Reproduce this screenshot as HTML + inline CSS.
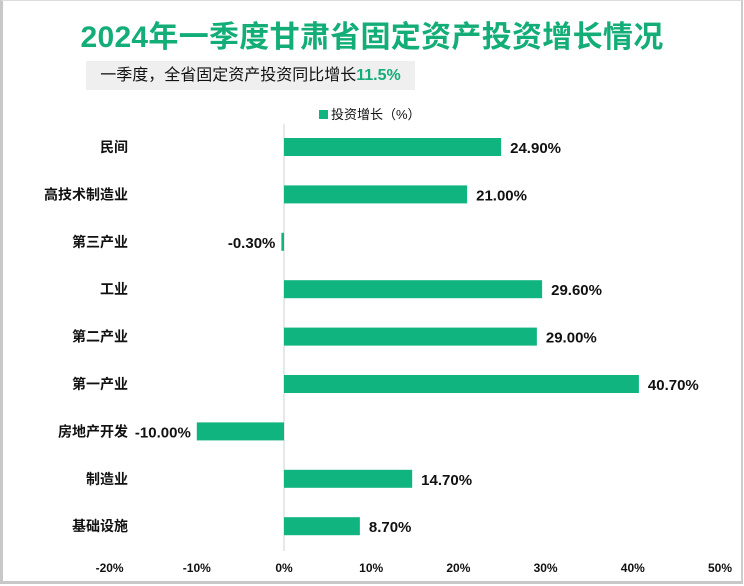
<!DOCTYPE html>
<html><head><meta charset="utf-8"><style>
body{margin:0;width:744px;height:586px;overflow:hidden;background:#fff;font-family:"Liberation Sans","Noto Sans CJK SC",sans-serif;}
#frame{position:absolute;left:0;top:0;width:738px;height:580px;border:3px solid #c8c8c8;border-top:1px solid #ddd;border-right:2px solid #ccc;}
#title{position:absolute;left:0;width:744px;top:12px;text-align:center;font-size:30px;font-weight:bold;color:#13ad78;letter-spacing:0.3px;}
#sub{position:absolute;left:86px;top:61px;width:329px;height:29px;background:#efefef;font-size:16px;line-height:29px;text-align:center;color:#111;}
#sub span{color:#13ad78;font-weight:bold;}
</style></head><body>
<div id="frame"></div>
<div id="title">2024年一季度甘肃省固定资产投资增长情况</div>
<div id="sub">一季度，全省固定资产投资同比增长<span>11.5%</span></div>
<svg id="chart" width="744" height="586" style="position:absolute;left:0;top:0"></svg>
<script>
const categories=["民间","高技术制造业","第三产业","工业","第二产业","第一产业","房地产开发","制造业","基础设施"];
const values=[24.9,21.0,-0.3,29.6,29.0,40.7,-10.0,14.7,8.7];
const ticks=[-20,-10,0,10,20,30,40,50];
const ns="http://www.w3.org/2000/svg";
const svg=document.getElementById('chart');
const x=v=>284+v*8.72;
const y=i=>147+i*47.4;
function mk(t,a){const e=document.createElementNS(ns,t);for(const k in a)e.setAttribute(k,a[k]);svg.appendChild(e);return e;}
const zl=mk('line',{x1:x(0),x2:x(0),y1:124,y2:551,stroke:'#d0d0d0','stroke-width':1});


const ls=mk('rect',{x:319,y:110,width:9,height:9,fill:'#10b47f'});


const lt=mk('text',{x:331,y:119,'font-size':13,fill:'#111'});lt.textContent='投资增长（%）';


categories.forEach((c,i)=>{
 const v=values[i],cy=y(i);
 const r=mk('rect',{x:Math.min(x(0),x(v)),y:cy-9,width:Math.max(Math.abs(x(v)-x(0)),1.5),height:18,fill:'#10b47f'});
 
 
 const cl=mk('text',{x:128,y:cy+5,'font-size':14,'font-weight':'bold','text-anchor':'end',fill:'#111'});cl.textContent=c;
 
 
 const neg=v<0;
 const vl=mk('text',{x:neg?x(v)-6:x(v)+9,y:cy+6,'font-size':15,'font-weight':'bold','text-anchor':neg?'end':'start',fill:'#111'});vl.textContent=v.toFixed(2)+'%';
 
 
});
ticks.forEach(t=>{
 const tl=mk('text',{x:x(t),y:572,'font-size':12,'font-weight':'bold','text-anchor':'middle',fill:'#111'});tl.textContent=t+'%';
 
 
});
</script>
</body></html>
